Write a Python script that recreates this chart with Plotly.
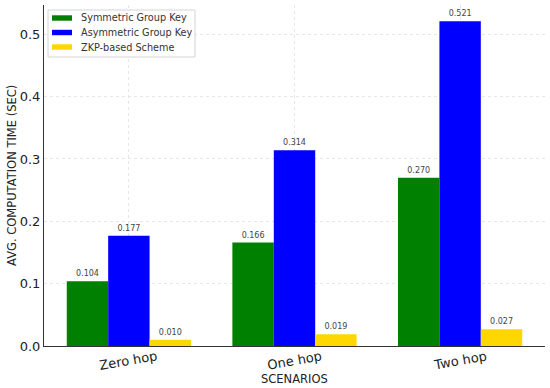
import plotly.graph_objects as go

categories = ["Zero hop", "One hop", "Two hop"]
symmetric = [0.104, 0.166, 0.270]
asymmetric = [0.177, 0.314, 0.521]
zkp = [0.010, 0.019, 0.027]
series_names = ["Symmetric Group Key", "Asymmetric Group Key", "ZKP-based Scheme"]
colors = ["#008000", "#0000ff", "#ffd700"]
y_ticks = [0.0, 0.1, 0.2, 0.3, 0.4, 0.5]

W, H = 550, 388
ML, MR, MT, MB = 44, 5, 5, 42
PW, PH = W - ML - MR, H - MT - MB


def px_x(p):
    return (p - ML) / PW


def px_y(p):
    return (H - MB - p) / PH


fig = go.Figure()
for name, vals, col in zip(series_names, [symmetric, asymmetric, zkp], colors):
    fig.add_trace(go.Bar(
        x=categories, y=vals, name=name,
        marker=dict(color=col, line=dict(width=0)),
        text=[f"{v:.3f}" for v in vals], textposition="outside",
        textfont=dict(size=8, color="#444444", family="DejaVu Sans"),
        cliponaxis=False, showlegend=False,
    ))

shapes = [dict(type="rect", xref="paper", yref="paper",
               x0=px_x(48), x1=px_x(195), y0=px_y(57), y1=px_y(10),
               line=dict(color="#d4d4d4", width=1), fillcolor="rgba(255,255,255,0.9)", layer="above")]
annotations = []
for i, (name, col) in enumerate(zip(series_names, colors)):
    cy = 18 + i * 14.5
    shapes.append(dict(type="rect", xref="paper", yref="paper",
                       x0=px_x(52), x1=px_x(72), y0=px_y(cy + 2.7), y1=px_y(cy - 2.7),
                       line=dict(width=0), fillcolor=col, layer="above"))
    annotations.append(dict(text=name, xref="paper", yref="paper", x=px_x(79), y=px_y(cy),
                            xanchor="left", yanchor="middle", showarrow=False,
                            font=dict(size=9.7, color="#333333", family="DejaVu Sans")))

# rotated category labels, centred under each category
for cat in categories:
    annotations.append(dict(text=cat, xref="x", yref="paper", x=cat, y=px_y(360),
                            xanchor="center", yanchor="middle", textangle=-10, showarrow=False,
                            font=dict(size=13, color="#222222", family="DejaVu Sans")))

annotations.append(dict(text="SCENARIOS", xref="paper", yref="paper", x=px_x(294), y=px_y(379),
                        xanchor="center", yanchor="middle", showarrow=False,
                        font=dict(size=11.5, color="#222222", family="DejaVu Sans")))
annotations.append(dict(text="AVG. COMPUTATION TIME (SEC)", xref="paper", yref="paper",
                        x=px_x(12), y=px_y(176), xanchor="center", yanchor="middle",
                        textangle=-90, showarrow=False,
                        font=dict(size=11.5, color="#222222", family="DejaVu Sans")))

fig.update_layout(
    width=W, height=H,
    margin=dict(l=ML, r=MR, t=MT, b=MB, autoexpand=False),
    barmode="group", bargap=0.25, bargroupgap=0,
    plot_bgcolor="white", paper_bgcolor="white",
    font=dict(family="DejaVu Sans", color="#222222"),
    showlegend=False,
    shapes=shapes, annotations=annotations,
    xaxis=dict(
        range=[-0.5125, 2.5125], showgrid=True, gridcolor="#e6e6e6", griddash="dot",
        showline=True, linecolor="#333333", linewidth=1, ticks="", showticklabels=False,
        automargin=False,
    ),
    yaxis=dict(
        range=[0, 0.547], tickvals=y_ticks, ticktext=[f"{t:.1f}" for t in y_ticks],
        showgrid=True, gridcolor="#e6e6e6", griddash="dot", zeroline=False,
        showline=True, linecolor="#333333", linewidth=1, ticks="",
        tickfont=dict(size=13, color="#222222"), automargin=False,
    ),
)

fig.write_html("out.html", config={"displayModeBar": False},
               post_script="document.body.style.margin='0';document.body.style.overflow='hidden';")
